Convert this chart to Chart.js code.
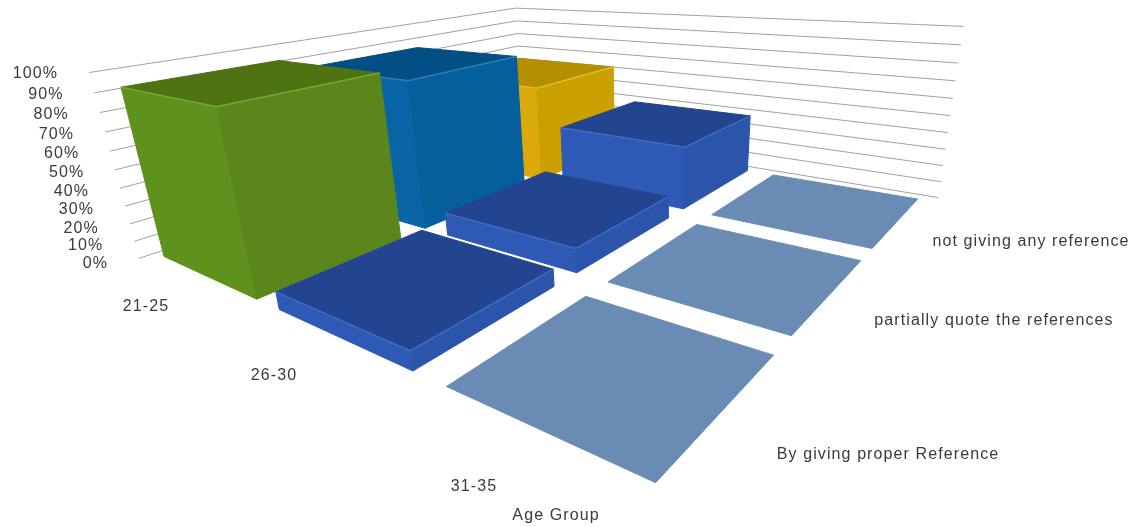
<!DOCTYPE html>
<html>
<head>
<meta charset="utf-8">
<title>Reference use by age group</title>
<script src="https://cdn.jsdelivr.net/npm/chart.js@4"></script>
<style>
html, body { margin: 0; padding: 0; background: #fff; }
canvas { display: block; }
</style>
</head>
<body>
<canvas id="chart" width="1138" height="527"></canvas>
<script>
const ageGroups = ['21-25', '26-30', '31-35'];
const referenceTypes = ['By giving proper Reference', 'partially quote the references', 'not giving any reference'];
const properRef = [92, 9, 0];
const partialRef = [85, 13, 0];
const noReference = [62, 38, 0];
const percentTicks = [0, 10, 20, 30, 40, 50, 60, 70, 80, 90, 100];
const axisTitle = 'Age Group';

// camera for the fake 3d view: (category, series, height 0-1) -> chart x/y
const cameraX = [72.068, 228.805, -57.798, 138.993];
const cameraY = [4.964, -17.975, -192.370, 258.373];
const cameraW = [-0.15585, 0.19262, -0.08951];
const barGap = 0.085;

function project(u, v, h) {
  const w = cameraW[0]*u + cameraW[1]*v + cameraW[2]*h + 1;
  return {
    x: (cameraX[0]*u + cameraX[1]*v + cameraX[2]*h + cameraX[3]) / w,
    y: (cameraY[0]*u + cameraY[1]*v + cameraY[2]*h + cameraY[3]) / w
  };
}

const green = { top: '#4f7313', left: '#5f911d', right: '#5a861b', edge: '#7aa838' };
const teal = { top: '#024f86', left: '#0964a6', right: '#055f9d', edge: '#2a80bd' };
const gold = { top: '#b48f00', left: '#dca90a', right: '#c9a000', edge: '#e6bc2a' };
const navy = { top: '#23448f', left: '#2e5ab5', right: '#2a55ab', edge: '#3e6dcb' };
const plate = { top: '#6a8cb4' };
const palette = [[green, teal, gold], [navy, navy, navy], [plate, plate, plate]];

const series = [properRef, partialRef, noReference];
const sets = [];

function poly(points, fill) {
  sets.push({ data: points.concat([points[0]]), showLine: true, fill: 'shape', backgroundColor: fill, borderColor: fill, borderWidth: 1, pointRadius: 0 });
}
function line(points, color, width) {
  sets.push({ data: points, showLine: true, fill: false, borderColor: color, borderWidth: width, pointRadius: 0 });
}

percentTicks.forEach(t => {
  const h = t / 100;
  line([project(0, 0, h), project(0, 3, h), project(3, 3, h)], '#a0a0a0', 1);
});

// back row first so the nearer bars paint over it
for (let j = 2; j >= 0; j--) {
  for (let i = 0; i < 3; i++) {
    const h = series[j][i] / 100, c = palette[i][j];
    const u0 = i + barGap, u1 = i + 1 - barGap, v0 = j + barGap, v1 = j + 1 - barGap;
    if (h > 0) {
      poly([project(u0, v0, 0), project(u1, v0, 0), project(u1, v0, h), project(u0, v0, h)], c.left);
      poly([project(u1, v0, 0), project(u1, v1, 0), project(u1, v1, h), project(u1, v0, h)], c.right);
    }
    poly([project(u0, v0, h), project(u1, v0, h), project(u1, v1, h), project(u0, v1, h)], c.top);
    if (h > 0) line([project(u0, v0, h), project(u1, v0, h), project(u1, v1, h)], c.edge, 1.5);
  }
}

const agePositions = [[146, 307], [274, 376], [474, 487]];
const typePositions = [[888, 455], [994, 321], [1031, 242]];

const textLabels = {
  id: 'textLabels',
  afterDraw(chart) {
    const { ctx, scales } = chart;
    const px = x => scales.x.getPixelForValue(x), py = y => scales.y.getPixelForValue(y);
    ctx.save();
    ctx.fillStyle = '#3a3a3a';
    ctx.font = '16px "Liberation Sans"';
    ctx.letterSpacing = '1.1px';
    ctx.textBaseline = 'middle';
    ctx.textAlign = 'right';
    percentTicks.forEach(t => {
      const h = t / 100, p = project(0, 0, h);
      ctx.fillText(t + '%', px(p.x - 31), py(p.y + 1 + (1 - h) * 4));
    });
    ctx.textAlign = 'center';
    agePositions.forEach((p, i) => ctx.fillText(ageGroups[i], px(p[0]), py(p[1])));
    ctx.fillText(axisTitle, px(556), py(516));
    typePositions.forEach((p, i) => ctx.fillText(referenceTypes[i], px(p[0]), py(p[1])));
    ctx.restore();
  }
};

new Chart(document.getElementById('chart'), {
  type: 'scatter',
  data: { datasets: sets.reverse() },
  plugins: [textLabels],
  options: {
    responsive: false,
    animation: false,
    layout: { padding: 0 },
    plugins: { legend: { display: false }, tooltip: { enabled: false } },
    scales: {
      x: { type: 'linear', min: 0, max: 1138, display: false },
      y: { type: 'linear', min: 0, max: 527, reverse: true, display: false }
    }
  }
});
</script>
</body>
</html>
